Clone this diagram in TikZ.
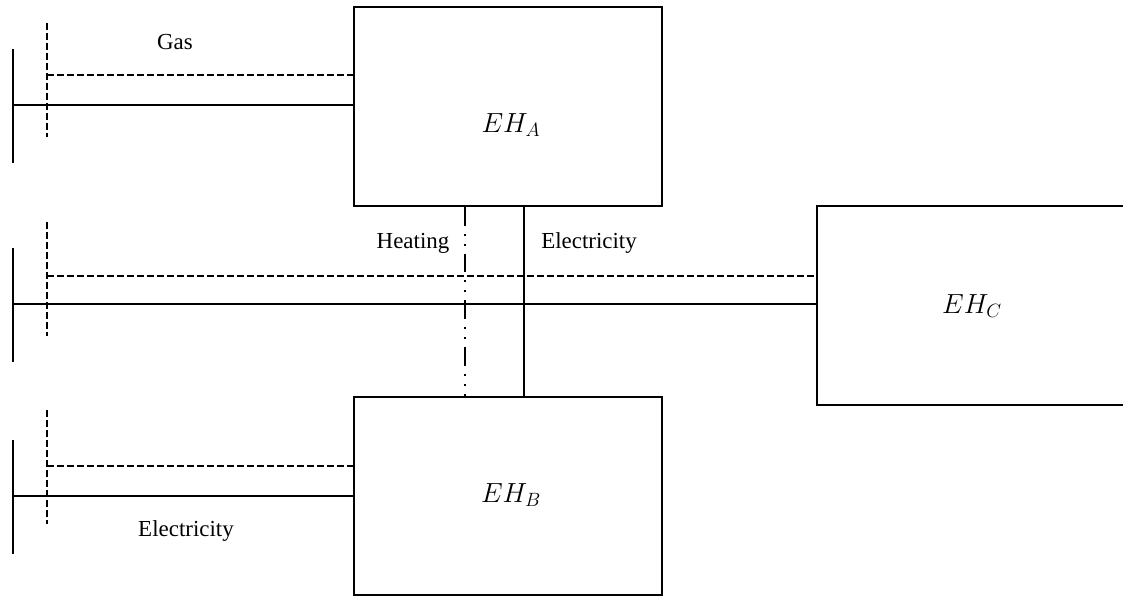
\documentclass[tikz,border=0pt]{standalone}
\usepackage{fontspec}
\setmainfont{Liberation Serif}
\begin{document}
\begin{tikzpicture}[x=0.75pt,y=-0.75pt,line width=1.5pt,
  hub/.style={draw,rectangle,inner sep=0pt},
  lbl/.style={font=\fontsize{17.2}{20}\selectfont,inner sep=0pt},
  ehlbl/.style={font=\fontsize{21}{24}\selectfont,inner sep=0pt},
  gasline/.style={dash pattern=on 5.25pt off 2.25pt},
  heatline/.style={dash pattern=on 14pt off 6pt on 1.5pt off 6pt on 1.5pt off 6pt}]
\clip (0,0) rectangle (1123,599);
% hubs
\node[hub,minimum width=231pt,minimum height=149.25pt] (A) at (508,106.5) {};
\node[hub,minimum width=231pt,minimum height=148.5pt] (B) at (508,496) {};
\node[hub,minimum width=242.25pt,minimum height=149.25pt] (C) at (978.5,305.5) {};
\node[ehlbl] (tA) at (511,125) {$EH_A$};
\node[ehlbl] (tB) at (511,495) {$EH_B$};
\node[ehlbl] (tC) at (972,306) {$EH_C$};
% bus bars
\coordinate (sA1) at (13,49);  \coordinate (sA2) at (13,163);
\coordinate (dA1) at (47,23);  \coordinate (dA2) at (47,137);
\coordinate (sC1) at (13,248); \coordinate (sC2) at (13,362);
\coordinate (dC1) at (47,222); \coordinate (dC2) at (47,336);
\coordinate (sB1) at (13,440); \coordinate (sB2) at (13,554);
\coordinate (dB1) at (47,410); \coordinate (dB2) at (47,524);
\draw (sA1) -- (sA2);
\draw (sC1) -- (sC2);
\draw (sB1) -- (sB2);
\draw[gasline] (dA1) -- (dA2);
\draw[gasline] (dC1) -- (dC2);
\draw[gasline] (dB1) -- (dB2);
% feeders
\coordinate (gA) at (47,75);  \coordinate (eA) at (13,105);
\coordinate (gC) at (47,276); \coordinate (eC) at (13,304);
\coordinate (gB) at (47,466); \coordinate (eB) at (13,496);
\draw[gasline] (gA) -- (gA -| A.west);
\draw (eA) -- (eA -| A.west);
\draw[gasline] (gC) -- (gC -| C.west);
\draw (eC) -- (eC -| C.west);
\draw[gasline] (gB) -- (gB -| B.west);
\draw (eB) -- (eB -| B.west);
% links between A and B
\coordinate (hx) at (465,0);
\coordinate (ex) at (524,0);
\draw[heatline] (hx |- A.south) -- (hx |- B.north);
\draw (ex |- A.south) -- (ex |- B.north);
% labels
\node[lbl] (lg) at (175,42) {Gas};
\node[lbl] (lh) at (413,243) {Heating};
\node[lbl] (le1) at (589,243) {Electricity};
\node[lbl] (le2) at (186,531) {Electricity};
\end{tikzpicture}
\end{document}
